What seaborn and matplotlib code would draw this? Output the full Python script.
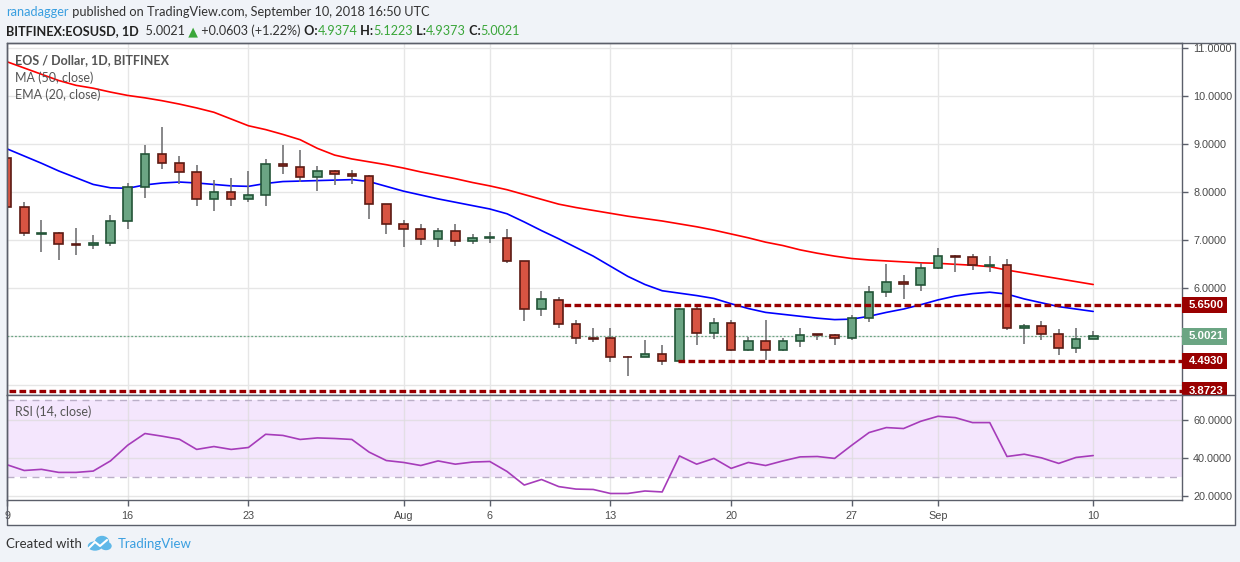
import numpy as np
import pandas as pd
import matplotlib
matplotlib.use("Agg")
import matplotlib.pyplot as plt
import seaborn as sns
from matplotlib.transforms import blended_transform_factory
from matplotlib.patches import Rectangle, Ellipse, Polygon

# ---------------- data ----------------
start_date = "2018-07-09"
end_date = "2018-09-10"

opens = [8.71, 7.69, 7.14, 7.16, 6.92, 6.90, 6.94, 7.40, 8.10, 8.79,
         8.60, 8.42, 7.85, 8.00, 7.85, 7.94, 8.58, 8.52, 8.31, 8.44,
         8.38, 8.33, 7.75, 7.33, 7.23, 7.02, 7.19, 6.98, 7.04, 7.05,
         6.56, 5.58, 5.75, 5.25, 4.97, 4.96, 4.58, 4.58, 4.63, 4.50,
         5.58, 5.08, 5.29, 4.71, 4.90, 4.71, 4.90, 5.05, 5.04, 4.96,
         5.38, 5.92, 6.13, 6.07, 6.42, 6.67, 6.65, 6.47, 6.48, 5.17,
         5.22, 5.06, 4.75, 4.9374]
highs = [8.78, 7.80, 7.42, 7.17, 7.26, 7.11, 7.52, 8.19, 8.99, 9.35,
         8.76, 8.57, 8.26, 8.29, 8.44, 8.69, 8.99, 8.88, 8.55, 8.46,
         8.46, 8.36, 7.76, 7.42, 7.34, 7.26, 7.33, 7.13, 7.17, 7.24,
         6.57, 5.94, 5.82, 5.34, 5.18, 5.18, 4.59, 4.92, 4.82, 5.60,
         5.65, 5.38, 5.35, 4.98, 5.35, 4.96, 5.17, 5.06, 5.06, 5.44,
         6.05, 6.51, 6.28, 6.52, 6.83, 6.70, 6.71, 6.68, 6.60, 5.25,
         5.33, 5.16, 5.17, 5.1223]
lows = [7.44, 7.08, 6.76, 6.58, 6.70, 6.81, 6.89, 7.24, 7.87, 8.48,
        8.17, 7.72, 7.60, 7.72, 7.80, 7.72, 8.38, 8.21, 8.03, 8.14,
        8.16, 7.44, 7.13, 6.85, 6.91, 6.85, 6.89, 6.92, 6.95, 6.52,
        5.33, 5.43, 5.18, 4.85, 4.89, 4.47, 4.18, 4.57, 4.40, 4.49,
        4.82, 4.95, 4.69, 4.69, 4.51, 4.69, 4.79, 4.93, 4.83, 4.93,
        5.31, 5.81, 5.77, 5.95, 6.40, 6.33, 6.38, 6.33, 5.14, 4.85,
        4.93, 4.62, 4.66, 4.9373]
closes = [7.69, 7.15, 7.16, 6.92, 6.90, 6.94, 7.40, 8.10, 8.79, 8.60,
          8.42, 7.85, 8.00, 7.85, 7.94, 8.58, 8.54, 8.31, 8.44, 8.38,
          8.33, 7.75, 7.33, 7.23, 7.02, 7.19, 6.98, 7.04, 7.06, 6.56,
          5.58, 5.78, 5.25, 4.96, 4.95, 4.58, 4.57, 4.63, 4.49, 5.58,
          5.08, 5.29, 4.71, 4.90, 4.71, 4.90, 5.04, 5.03, 4.96, 5.38,
          5.92, 6.13, 6.08, 6.42, 6.67, 6.65, 6.48, 6.48, 5.17, 5.22,
          5.06, 4.75, 4.94, 5.0021]
ma50 = [10.71, 10.58, 10.45, 10.32, 10.22, 10.16, 10.08, 10.01, 9.96, 9.90,
        9.83, 9.75, 9.66, 9.52, 9.38, 9.30, 9.20, 9.09, 8.91, 8.77,
        8.69, 8.63, 8.57, 8.50, 8.42, 8.35, 8.28, 8.20, 8.13, 8.05,
        7.95, 7.85, 7.75, 7.68, 7.62, 7.56, 7.50, 7.45, 7.40, 7.34,
        7.28, 7.21, 7.13, 7.05, 6.96, 6.89, 6.80, 6.73, 6.67, 6.62,
        6.59, 6.57, 6.55, 6.53, 6.52, 6.50, 6.48, 6.45, 6.38, 6.32,
        6.26, 6.20, 6.14, 6.08]
ema20 = [8.90, 8.75, 8.60, 8.44, 8.30, 8.16, 8.09, 8.08, 8.15, 8.19,
         8.21, 8.19, 8.16, 8.13, 8.12, 8.18, 8.22, 8.23, 8.24, 8.25,
         8.26, 8.22, 8.12, 8.02, 7.94, 7.86, 7.79, 7.72, 7.65, 7.55,
         7.38, 7.20, 7.03, 6.85, 6.67, 6.46, 6.25, 6.08, 5.95, 5.90,
         5.85, 5.79, 5.68, 5.58, 5.50, 5.46, 5.42, 5.38, 5.35, 5.36,
         5.42, 5.50, 5.57, 5.66, 5.76, 5.84, 5.89, 5.92, 5.88, 5.78,
         5.70, 5.62, 5.57, 5.52]
rsi14 = [36.4, 33.4, 34.0, 32.4, 32.4, 33.1, 38.4, 46.6, 52.7, 51.3,
         49.7, 44.4, 45.9, 44.4, 45.4, 52.3, 51.7, 49.6, 50.4, 50.1,
         49.6, 43.0, 38.6, 37.6, 36.0, 38.4, 36.7, 37.8, 38.1, 32.9,
         25.8, 28.7, 25.0, 23.7, 23.5, 21.4, 21.4, 22.7, 22.2, 41.0,
         36.7, 39.7, 34.5, 37.6, 36.0, 38.4, 40.5, 40.7, 39.7, 46.6,
         53.2, 55.8, 55.3, 59.1, 61.7, 61.0, 58.4, 58.4, 40.7, 41.9,
         40.0, 37.1, 40.2, 41.2]

level_values = [5.6500, 4.4930, 3.8723]
level_labels = ["5.6500", "4.4930", "3.8723"]
level_start_days = [32.3, 38.9, -1.0]
last_price = 5.0021
last_label = "5.0021"

tick_dates = ["2018-07-09", "2018-07-16", "2018-07-23", "2018-08-01", "2018-08-06",
              "2018-08-13", "2018-08-20", "2018-08-27", "2018-09-01", "2018-09-10"]
tick_labels = ["9", "16", "23", "Aug", "6", "13", "20", "27", "Sep", "10"]
price_ticks = [4, 5, 6, 7, 8, 9, 10, 11]
hidden_price_labels = [4, 5]   # covered by the price tags in the reference
rsi_ticks = [20, 40, 60]
rsi_band = (30, 70)

header_user = "ranadagger"
header_rest = " published on TradingView.com, September 10, 2018 16:50 UTC"
symbol_text = "BITFINEX:EOSUSD, 1D"
change_text = " +0.0603 (+1.22%)"
ohlc_names = ["O:", "H:", "L:", "C:"]
ohlc_values = ["4.9374", "5.1223", "4.9373", "5.0021"]
legend_lines = ["EOS / Dollar, 1D, BITFINEX", "MA (50, close)", "EMA (20, close)"]
rsi_title = "RSI (14, close)"

# ---------------- style ----------------
sns.set_theme(style="white")
plt.rcParams["font.family"] = ["Lato", "DejaVu Sans"]

W, H = 1240, 562
BG = "#F0F3F8"
FRAME = "#5B5F6A"
GRID = "#E6E6E6"
TXT = "#4A4A4A"
UP_FILL, UP_EDGE = "#6BA583", "#225437"
DN_FILL, DN_EDGE = "#D75442", "#5B1A13"
WICK = "#737375"
LEVEL = "#990000"
GREEN_TXT = "#3AA63A"
BLUE_TXT = "#3A9FE0"

df = pd.DataFrame({
    "date": pd.date_range(start_date, end_date, freq="D"),
    "open": opens, "high": highs, "low": lows, "close": closes,
    "ma50": ma50, "ema20": ema20, "rsi": rsi14,
})
df["day"] = (df["date"] - df["date"].iloc[0]).dt.days
tick_pos = [(pd.Timestamp(d) - df["date"].iloc[0]).days for d in tick_dates]

fig = plt.figure(figsize=(W / 100, H / 100), dpi=100, facecolor=BG)

L, R = 6.5, 1182.0
T1, B1, B2 = 43.0, 395.0, 500.0
ax = fig.add_axes([L / W, 1 - B1 / H, (R - L) / W, (B1 - T1) / H])
ax2 = fig.add_axes([L / W, 1 - B2 / H, (R - L) / W, (B2 - B1) / H], sharex=ax)

# white chart frame background
fig.add_artist(Rectangle((L / W, 1 - 525 / H), (1235 - L) / W, (525 - T1) / H,
                         transform=fig.transFigure, facecolor="white",
                         edgecolor="none", zorder=-10))

xmin, xmax = -0.03, 68.15
ymin, ymax = 3.783, 11.10
rmin, rmax = 18.0, 72.8

for a in (ax, ax2):
    a.set_facecolor("white")
    a.set_axisbelow(True)
    for s in a.spines.values():
        s.set_color(FRAME)
        s.set_linewidth(1.0)

# ---------------- price panel ----------------
up = df["close"] >= df["open"]
fills = np.where(up, UP_FILL, DN_FILL)
edges = np.where(up, UP_EDGE, DN_EDGE)
body_lo = np.minimum(df["open"], df["close"])
body_h = np.maximum((df["close"] - df["open"]).abs(), 0.006)

ax.vlines(df["day"], df["low"], df["high"], color=WICK, lw=1.2, zorder=2)
ax.bar(df["day"], body_h, bottom=body_lo, width=0.5, color=fills,
       edgecolor=edges, linewidth=1.2, zorder=3)

sns.lineplot(x=df["day"], y=df["ma50"], ax=ax, color="#FF0000", lw=1.2,
             zorder=1.6, legend=False)
sns.lineplot(x=df["day"], y=df["ema20"], ax=ax, color="#0000FF", lw=1.2,
             zorder=1.6, legend=False)

for lv, st in zip(level_values, level_start_days):
    ax.hlines(lv, st, xmax + 1, colors=LEVEL, lw=2.4,
              linestyles=(0, (2.0, 1.0)), zorder=4)
ax.axhline(last_price, color=UP_FILL, lw=0.9, ls=(0, (1.5, 1.5)), zorder=1.5)

ax.set_xlim(xmin, xmax)
ax.set_ylim(ymin, ymax)
ax.set_yticks(price_ticks)
ax.set_yticklabels(["" if v in hidden_price_labels else f"{v:.4f}" for v in price_ticks])
ax.yaxis.tick_right()
ax.tick_params(axis="y", right=True, direction="out", length=4, width=1,
               color=FRAME, labelsize=7.8, labelcolor=TXT, pad=4)
for lab in ax.get_yticklabels():
    lab.set_family("Liberation Sans")
ax.set_xticks(tick_pos)
ax.tick_params(axis="x", bottom=False, labelbottom=False)
ax.grid(True, color=GRID, lw=1)
ax.set_xlabel("")
ax.set_ylabel("")

# price tags on the scale
blend = blended_transform_factory(ax.transAxes, ax.transData)
ax_w_px = R - L
ax_h_px = B1 - T1
unit_px = ax_h_px / (ymax - ymin)
tag_w = 45.0 / ax_w_px
tag_h = 16.6 / unit_px
clip_rect = Rectangle((0, ymin), 1.2, ymax - ymin, transform=blend)

def price_tag(val, label, color, clip=False):
    rect = Rectangle((1.0, val - tag_h / 2), tag_w, tag_h, transform=blend,
                     facecolor=color, edgecolor="none", zorder=6)
    ax.add_patch(rect)
    txt = ax.text(1.0 + 24.0 / ax_w_px, val, label, transform=blend,
                  ha="center", va="center", color="white", fontsize=8.2,
                  fontweight="bold", family="Liberation Sans", zorder=7)
    for art in (rect, txt):
        if clip:
            art.set_clip_on(True)
            art.set_clip_path(clip_rect)
        else:
            art.set_clip_on(False)

for lv, lb in zip(level_values, level_labels):
    price_tag(lv, lb, LEVEL, clip=(lv < ymin + tag_h / 2))
price_tag(last_price, last_label, UP_FILL)

# legend texts
ax.text(8.5 / ax_w_px, 1 - 17 / ax_h_px, legend_lines[0], transform=ax.transAxes,
        ha="left", va="center", fontsize=9.0, fontweight="bold", color="#555555")
ax.text(8.5 / ax_w_px, 1 - 35 / ax_h_px, legend_lines[1], transform=ax.transAxes,
        ha="left", va="center", fontsize=9.0, color="#555555")
ax.text(8.5 / ax_w_px, 1 - 52 / ax_h_px, legend_lines[2], transform=ax.transAxes,
        ha="left", va="center", fontsize=9.0, color="#555555")

# ---------------- RSI panel ----------------
ax2.axhspan(rsi_band[0], rsi_band[1], color="#F4E6FD", zorder=0.2, lw=0)
for b in rsi_band:
    ax2.axhline(b, color="#BBAFC8", lw=1, ls=(0, (5, 4)), zorder=0.8)
sns.lineplot(x=df["day"], y=df["rsi"], ax=ax2, color="#A63CBA", lw=1.2,
             zorder=3, legend=False)
ax2.set_ylim(rmin, rmax)
ax2.set_yticks(rsi_ticks)
ax2.set_yticklabels([f"{v:.4f}" for v in rsi_ticks])
ax2.yaxis.tick_right()
ax2.tick_params(axis="y", right=True, direction="out", length=4, width=1,
                color=FRAME, labelsize=7.8, labelcolor=TXT, pad=4)
ax2.set_xticks(tick_pos)
ax2.set_xticklabels(tick_labels)
ax2.tick_params(axis="x", bottom=True, direction="out", length=4, width=1,
                color=FRAME, labelsize=7.8, labelcolor=TXT, pad=4)
for lab in ax2.get_yticklabels() + ax2.get_xticklabels():
    lab.set_family("Liberation Sans")
ax2.grid(True, color="#DCDCDC", lw=1, alpha=0.7)
ax2.set_xlabel("")
ax2.set_ylabel("")
ax2.text(8.5 / ax_w_px, 1 - 17 / (B2 - B1), rsi_title, transform=ax2.transAxes,
         ha="left", va="center", fontsize=9.0, color="#555555")

# ---------------- overlay: frame + header + footer ----------------
ov = fig.add_axes([0, 0, 1, 1], zorder=10)
ov.set_xlim(0, W)
ov.set_ylim(H, 0)
ov.axis("off")
ov.patch.set_alpha(0)
ov.plot([L, 1235, 1235, L, L], [T1, T1, 525, 525, T1], color=FRAME, lw=1.0)
ov.plot([R, 1235], [B1, B1], color=FRAME, lw=1.0)

renderer = fig.canvas.get_renderer()

def place_parts(x0, y, parts, size):
    x = x0
    arts = []
    for txt, col, wt in parts:
        t = ov.text(x, y, txt, color=col, fontsize=size, fontweight=wt,
                    ha="left", va="center")
        bb = t.get_window_extent(renderer=renderer)
        x += bb.width
        arts.append(t)
    return x - x0, arts

def fit_parts(x0, y, parts, target_w, size0):
    w, arts = place_parts(x0, y, parts, size0)
    for a in arts:
        a.remove()
    w2, arts = place_parts(x0, y, parts, size0 * target_w / w)
    return arts

fit_parts(6.5, 12, [(header_user, BLUE_TXT, "normal"),
                    (header_rest, "#333333", "normal")], 425, 10)

line2 = [(symbol_text, "#222222", "bold"),
         ("  " + last_label, "#333333", "normal"),
         (" \u25B2", GREEN_TXT, "normal"),
         (change_text, "#333333", "normal")]
for nm, vl in zip(ohlc_names, ohlc_values):
    line2.append((" " + nm, "#222222", "bold"))
    line2.append((vl, GREEN_TXT, "normal"))
fit_parts(6.5, 31, line2, 510, 10)

# footer
ov.text(6.5, 544, "Created with", color="#333333", fontsize=9.5, ha="left", va="center")
logo_c = "#5FB8E8"
ov.add_patch(Ellipse((95, 546), 13, 8, color=logo_c))
ov.add_patch(Ellipse((102, 542), 13, 11, color=logo_c))
ov.add_patch(Ellipse((106, 546), 10, 7, color=logo_c))
ov.plot([89, 95, 100, 107], [548, 542, 546, 540], color="white", lw=1.5)
ov.text(117.5, 544, "TradingView", color=BLUE_TXT, fontsize=9.5, ha="left", va="center")

fig.savefig("out.png", dpi=100, facecolor=BG)
